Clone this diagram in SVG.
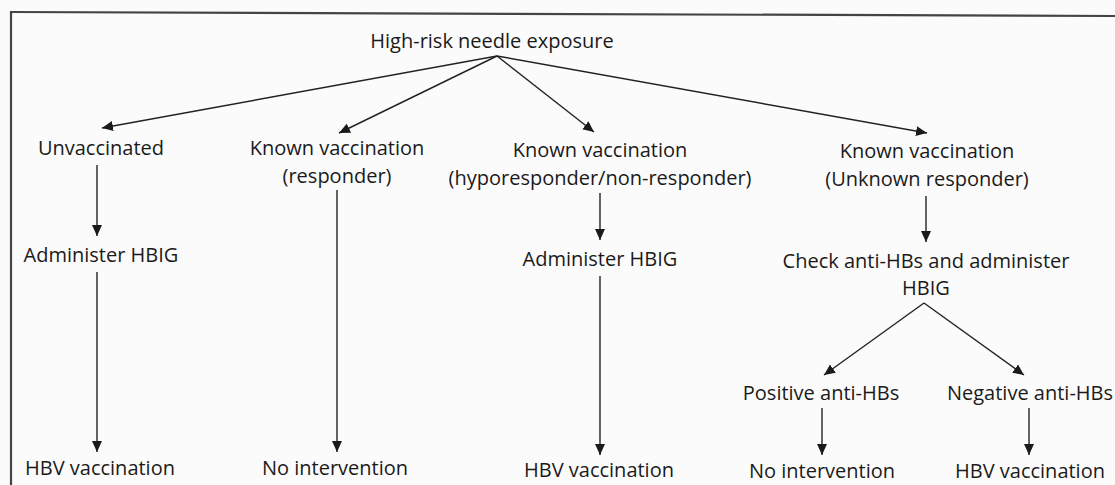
<svg xmlns="http://www.w3.org/2000/svg" width="1115" height="485" viewBox="0 0 1115 485">
  <defs>
    <marker id="arrow" markerUnits="userSpaceOnUse" markerWidth="12" markerHeight="12" viewBox="0 0 12 12" refX="11" refY="6" orient="auto">
      <path d="M0,1 L11,6 L0,11 Z" fill="#1a1a1a"/>
    </marker>
    <style>
      .lbl { font-family: "Open Sans", "Noto Sans", sans-serif; font-size: 20px; fill: #1a1a1a; text-anchor: middle; }
      .edge { stroke: #222; stroke-width: 1.4; fill: none; marker-end: url(#arrow); }
      .frame { stroke: #444; stroke-width: 2.2; fill: none; }
    </style>
  </defs>

  <rect width="1115" height="485" fill="#fcfbfb"/>

  <!-- frame -->
  <g id="frame">
    <line class="frame" x1="10" y1="12" x2="1115" y2="16"/>
    <line class="frame" x1="11" y1="11" x2="11" y2="485"/>
  </g>

  <!-- nodes -->
  <g id="exposure"><text class="lbl" x="492" y="48">High-risk needle exposure</text></g>
  <g id="unvaccinated"><text class="lbl" x="101" y="155">Unvaccinated</text></g>
  <g id="responder">
    <text class="lbl" x="337" y="155">Known vaccination</text>
    <text class="lbl" x="337" y="183">(responder)</text>
  </g>
  <g id="hyporesponder">
    <text class="lbl" x="600" y="157">Known vaccination</text>
    <text class="lbl" x="600" y="185">(hyporesponder/non-responder)</text>
  </g>
  <g id="unknown-responder">
    <text class="lbl" x="927" y="158">Known vaccination</text>
    <text class="lbl" x="927" y="186">(Unknown responder)</text>
  </g>
  <g id="hbig-1"><text class="lbl" x="101" y="262">Administer HBIG</text></g>
  <g id="hbig-3"><text class="lbl" x="600" y="266">Administer HBIG</text></g>
  <g id="check">
    <text class="lbl" x="926" y="268">Check anti-HBs and administer</text>
    <text class="lbl" x="926" y="295">HBIG</text>
  </g>
  <g id="positive"><text class="lbl" x="821" y="400">Positive anti-HBs</text></g>
  <g id="negative"><text class="lbl" x="1030" y="400">Negative anti-HBs</text></g>
  <g id="vacc-1"><text class="lbl" x="100" y="475">HBV vaccination</text></g>
  <g id="none-2"><text class="lbl" x="335" y="475">No intervention</text></g>
  <g id="vacc-3"><text class="lbl" x="599" y="477">HBV vaccination</text></g>
  <g id="none-pos"><text class="lbl" x="822" y="478">No intervention</text></g>
  <g id="vacc-neg"><text class="lbl" x="1030" y="478">HBV vaccination</text></g>

  <!-- connectors -->
  <g id="connectors">
    <line class="edge" x1="497" y1="56" x2="102" y2="128"/>
    <line class="edge" x1="497" y1="56" x2="339" y2="133"/>
    <line class="edge" x1="497" y1="56" x2="594" y2="132"/>
    <line class="edge" x1="497" y1="56" x2="927" y2="133"/>
    <line class="edge" x1="97" y1="165" x2="97" y2="236"/>
    <line class="edge" x1="97" y1="272" x2="97" y2="452"/>
    <line class="edge" x1="337" y1="190" x2="337" y2="452"/>
    <line class="edge" x1="600" y1="193" x2="600" y2="240"/>
    <line class="edge" x1="600" y1="276" x2="600" y2="455"/>
    <line class="edge" x1="926" y1="196" x2="926" y2="242"/>
    <line class="edge" x1="924" y1="303" x2="824" y2="375"/>
    <line class="edge" x1="924" y1="303" x2="1024" y2="375"/>
    <line class="edge" x1="822" y1="408" x2="822" y2="455"/>
    <line class="edge" x1="1029" y1="408" x2="1029" y2="455"/>
  </g>
</svg>
